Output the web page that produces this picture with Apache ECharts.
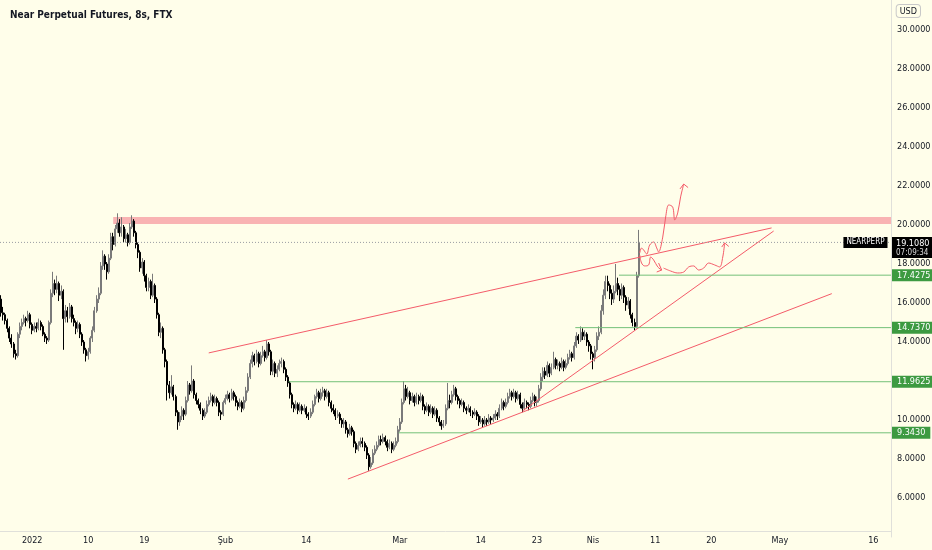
<!DOCTYPE html>
<html><head><meta charset="utf-8">
<script src="https://cdn.jsdelivr.net/npm/echarts@6/dist/echarts.min.js"></script>
<style>html,body{margin:0;padding:0;background:#fffeea;}#c{width:932px;height:550px;}</style>
</head><body><div id="c"></div>
<script>
// ---- time axis (8h candles starting 2021-12-27 00:00 UTC) ----
const startDate = Date.UTC(2021, 11, 27, 0, 0, 0);
const categoryCount = 429;
const tickIndex = [15, 42, 69, 108, 147, 192, 231, 258, 285, 315, 342, 375, 420];
const tickLabels = ['2022', '10', '19', 'Şub', '14', 'Mar', '14', '23', 'Nis', '11', '20', 'May', '16'];

// ---- candles ----
const firstOpen = 16.2;
const closes = [
15.5,15.4,15.1,14.7,14.2,13.9,13.4,13.3,14.4,14.8,
15.0,15.2,15.1,15.4,14.9,14.6,14.8,14.7,15.0,14.8,
14.4,14.2,14.1,15.0,16.5,17.0,16.7,17.0,16.4,16.6,
15.2,15.6,15.3,15.8,15.2,15.0,14.7,14.9,14.4,14.0,
13.6,13.3,13.5,14.2,14.6,15.6,16.2,16.5,17.9,18.4,
18.0,17.6,18.3,19.4,19.0,19.8,20.1,19.6,19.9,19.3,
19.5,19.1,19.9,20.2,19.6,19.0,18.6,17.8,18.1,17.4,
16.8,17.1,16.4,16.9,16.2,15.4,14.5,14.7,13.6,13.0,
11.8,11.4,11.7,11.2,10.4,9.9,10.2,10.5,10.3,11.0,
11.8,11.5,12.0,11.3,11.0,10.8,10.5,10.2,10.4,10.8,
11.0,11.2,10.9,11.1,10.9,10.4,10.3,10.9,11.1,11.3,
11.1,11.4,11.2,10.9,10.7,10.9,10.6,11.0,11.5,12.2,
12.9,13.3,13.0,13.4,12.9,13.3,13.5,13.2,13.9,13.5,
12.5,12.9,12.4,12.6,12.9,13.0,12.6,12.2,11.9,11.3,
10.8,10.6,10.8,10.5,10.7,10.5,10.6,10.3,10.2,10.4,
10.8,11.2,11.4,11.1,11.4,11.5,11.2,11.4,10.9,10.6,
10.5,10.2,10.3,10.0,9.8,9.9,9.5,9.3,9.6,9.4,
8.8,8.5,8.7,8.9,8.8,8.6,8.2,7.6,7.8,8.3,
8.5,8.7,9.0,8.9,9.1,8.9,8.6,8.8,8.5,8.7,
8.9,9.5,9.9,10.9,11.6,11.2,11.4,11.0,11.2,10.9,
11.2,11.0,11.2,10.7,10.5,10.7,10.4,10.6,10.3,10.5,
10.1,9.9,9.7,9.8,10.6,11.0,10.9,11.3,11.6,11.2,
11.0,10.8,10.9,10.6,10.5,10.6,10.4,10.3,10.4,10.2,
9.9,10.0,9.8,10.0,9.9,10.1,10.0,10.1,10.3,10.2,
10.6,10.9,10.7,10.9,11.2,11.4,11.2,11.4,11.1,11.3,
10.8,10.6,10.9,10.8,10.7,11.0,11.2,10.9,11.0,11.6,
12.2,12.5,12.3,12.8,12.4,12.7,13.1,12.8,12.9,12.7,
13.0,12.7,12.9,13.2,13.4,13.2,13.8,14.3,14.1,14.5,
14.3,14.4,14.0,13.8,13.4,13.2,13.6,14.3,14.5,15.6,
16.4,17.1,16.9,16.5,16.2,16.6,17.0,16.7,16.4,16.8,
16.3,15.9,16.1,15.4,15.0,14.8,17.4,19.108
];
const highs = [
16.4,15.8,15.5,15.2,14.8,14.4,14.0,13.6,14.5,15.0,
15.2,15.4,15.3,15.6,15.5,15.0,15.0,15.0,15.2,15.1,
14.9,14.5,14.3,15.1,16.7,17.6,17.2,17.4,17.1,16.9,
16.7,15.9,15.8,16.0,15.9,15.4,15.1,15.1,15.0,14.5,
14.1,13.7,13.7,14.3,14.8,15.8,16.4,16.8,18.1,18.7,
18.5,18.1,18.5,19.6,19.6,20.0,20.6,20.3,20.4,20.0,
19.8,19.6,20.1,20.5,20.3,19.7,19.1,18.7,18.3,18.2,
17.5,17.3,17.2,17.5,17.0,16.3,15.5,15.0,14.8,13.7,
13.1,12.0,12.3,11.8,11.3,10.5,10.4,10.7,10.6,11.2,
12.0,11.9,12.8,12.1,11.4,11.1,10.9,10.6,10.6,11.0,
11.2,11.4,11.3,11.3,11.2,11.0,10.5,11.0,11.3,11.5,
11.4,11.6,11.5,11.3,11.0,11.1,11.0,11.2,11.7,12.4,
13.1,13.5,13.4,13.6,13.5,13.5,13.8,13.6,14.1,14.0,
13.6,13.1,13.0,12.8,13.1,13.2,13.1,12.7,12.3,12.0,
11.4,10.9,11.0,10.9,10.9,10.8,10.8,10.7,10.4,10.6,
11.0,11.3,11.6,11.5,11.6,11.7,11.6,11.6,11.5,11.0,
10.8,10.6,10.5,10.4,10.1,10.1,10.0,9.6,9.8,9.7,
9.5,8.9,8.9,9.1,9.1,8.9,8.7,8.3,8.1,8.5,
8.7,8.9,9.2,9.2,9.3,9.2,9.0,9.0,8.9,8.9,
9.1,9.7,10.1,11.1,12.0,11.8,11.7,11.5,11.4,11.3,
11.4,11.3,11.4,11.3,10.8,10.9,10.8,10.8,10.7,10.7,
10.6,10.2,10.0,10.0,10.8,11.9,11.3,11.5,11.8,11.7,
11.3,11.1,11.1,11.0,10.7,10.8,10.7,10.5,10.6,10.5,
10.3,10.2,10.1,10.2,10.1,10.3,10.2,10.3,10.5,10.4,
10.8,11.1,11.0,11.1,11.4,11.6,11.5,11.6,11.5,11.5,
11.4,10.9,11.1,11.0,10.9,11.2,11.4,11.3,11.2,11.8,
12.4,12.7,12.7,13.0,12.9,12.9,13.5,13.2,13.1,13.0,
13.2,13.1,13.1,13.4,13.6,13.5,14.0,14.5,14.4,14.8,
14.7,14.6,14.5,14.1,13.9,13.5,13.8,14.5,14.8,15.9,
16.7,17.4,17.4,17.0,16.7,16.9,18.0,17.3,16.9,17.0,
16.9,16.4,16.3,16.2,15.5,15.2,17.6,19.75
];
const lows = [
15.3,15.1,14.9,14.5,14.0,13.7,13.2,13.1,13.2,14.2,
14.6,14.9,14.8,15.0,14.7,14.4,14.5,14.5,14.6,14.6,
14.3,14.0,13.9,14.0,14.9,16.3,16.4,16.5,16.1,16.2,
13.6,15.0,15.0,15.2,15.0,14.8,14.4,14.5,14.2,13.8,
13.4,13.0,13.1,13.4,14.0,14.5,15.5,16.0,16.4,17.7,
17.7,17.2,17.5,18.2,18.7,18.9,19.6,19.4,19.4,19.1,
19.1,18.9,19.0,19.8,19.4,18.8,18.3,17.6,17.5,17.1,
16.6,16.6,16.2,16.3,16.0,15.2,14.3,14.2,13.4,12.7,
11.0,11.1,11.3,11.0,10.2,9.5,9.7,10.0,10.0,10.2,
10.9,11.3,11.4,11.1,10.8,10.6,10.3,10.0,10.1,10.3,
10.7,10.9,10.7,10.8,10.7,10.2,10.0,10.2,10.8,11.0,
10.9,11.0,11.0,10.7,10.5,10.6,10.4,10.5,10.9,11.4,
12.1,12.7,12.8,12.9,12.7,12.8,13.2,13.0,13.1,13.3,
12.3,12.3,12.2,12.2,12.5,12.7,12.4,12.0,11.7,11.1,
10.6,10.4,10.5,10.3,10.4,10.3,10.4,10.1,10.0,10.1,
10.3,10.7,11.1,10.9,11.0,11.2,11.0,11.1,10.7,10.4,
10.3,10.0,10.1,9.8,9.6,9.6,9.3,9.1,9.2,9.2,
8.6,8.3,8.4,8.6,8.6,8.4,8.0,7.4,7.5,7.7,
8.2,8.4,8.6,8.7,8.8,8.7,8.4,8.5,8.3,8.4,
8.6,8.8,9.4,9.8,10.8,11.0,11.1,10.8,10.9,10.7,
10.8,10.8,10.9,10.5,10.3,10.4,10.2,10.3,10.1,10.2,
9.9,9.7,9.5,9.6,9.7,10.5,10.6,10.8,11.2,11.0,
10.8,10.6,10.7,10.4,10.3,10.4,10.2,10.1,10.2,10.0,
9.7,9.8,9.6,9.7,9.7,9.8,9.8,9.9,10.0,10.0,
10.1,10.5,10.5,10.6,10.8,11.1,11.0,11.1,10.9,11.0,
10.6,10.4,10.5,10.6,10.5,10.6,10.9,10.7,10.7,10.9,
11.5,12.0,12.1,12.2,12.2,12.3,12.6,12.6,12.6,12.5,
12.6,12.5,12.6,12.8,13.1,13.0,13.1,13.7,13.9,14.0,
14.1,14.1,13.8,13.5,13.1,12.6,13.0,13.5,14.1,14.4,
15.4,16.2,16.6,16.2,15.9,16.0,16.5,16.4,16.1,16.2,
16.0,15.6,15.7,15.2,14.8,14.6,14.7,17.3
];

// ---- price markers ----
const symbolName = 'NEARPERP';
const lastPrice = 19.108;
const countdown = '07:09:34';
const levelPrices = [17.4275, 14.7370, 11.9625, 9.3430];
const levelStarts = [297.5, 276.5, 138.5, 191.5];
const zoneStart = 54, zoneEnd = 428.5, zoneLow = 20.05, zoneHigh = 20.41;
// trend lines: [startIndex, startPrice, endIndex, endPrice]
const trendLines = [[100, 13.44, 371, 19.85], [251, 10.46, 372, 19.69], [167, 6.97, 400, 16.48]];
// projection sketches (x = candle index, y = price)
const upPathX = [307.5,308.4,309.4,310.9,312.3,314.2,315.7,316.6,318.6,320.0,321.5,323.4,324.4,325.8,327.2,328.7];
const upPathY = [18.56,18.82,18.72,18.51,18.97,19.13,18.82,18.62,19.38,20.41,21.03,20.92,20.26,20.62,21.44,22.10];
const upArrowX = [326.9, 328.7, 330.8];
const upArrowY = [21.85, 22.10, 21.92];
const downPathX = [307.5,308.4,309.9,311.8,312.8,314.2,316.2,318.1];
const downPathY = [18.46,18.05,17.90,17.95,18.36,18.21,17.85,17.69];
const downArrowX = [315.7, 318.1, 316.6];
const downArrowY = [17.59, 17.69, 18.05];
const wavePathX = [319.0,322.4,325.8,328.7,331.1,333.5,335.9,338.3,340.7,343.6,346.0,347.5,348.4];
const wavePathY = [17.79,17.64,17.54,17.59,17.85,17.90,17.69,17.79,18.05,17.95,17.85,18.36,19.08];
const waveArrowX = [347.0, 348.4, 350.4];
const waveArrowY = [18.87, 19.08, 18.90];

// ---- build ----
const FONT = '"Liberation Sans Narrow", "DejaVu Sans Condensed", "Liberation Sans", sans-serif';
const categories = [];
for (let i = 0; i < categoryCount; i++) {
  const d = new Date(startDate + i * 8 * 3600 * 1000);
  categories.push(d.toISOString().slice(0, 16).replace('T', ' '));
}
const ohlc = closes.map((c, i) => {
  const o = i === 0 ? firstOpen : closes[i - 1];
  return [o, c, Math.min(lows[i], o, c), Math.max(highs[i], o, c)];
});
const pairs = (xa, ya) => xa.map((x, i) => [x, ya[i]]);
const RED = '#f45b69';
function seg(data, color, extra) {
  return Object.assign({
    type: 'line', xAxisIndex: 1, yAxisIndex: 0, data: data, symbol: 'none', showSymbol: false,
    silent: true, animation: false, lineStyle: { color: color, width: 1 }, z: 3
  }, extra || {});
}
const series = [];
series.push({
  type: 'line', xAxisIndex: 1, yAxisIndex: 0, data: [], silent: true, z: 1,
  markArea: { silent: true, itemStyle: { color: '#f9b3b3' },
    data: [[{ coord: [zoneStart, zoneHigh] }, { coord: [zoneEnd, zoneLow] }]] }
});
series.push(seg([[-0.5, lastPrice], [428.5, lastPrice]], '#9a9ca3', {
  lineStyle: { color: '#9a9ca3', width: 1, type: [1, 2] },
  endLabel: { show: true, distance: 1, formatter: '{a|' + lastPrice.toFixed(4) + '}\n{b|' + countdown + '}',
    backgroundColor: '#000', padding: [2, 4, 0, 4], offset: [0, 5], fontFamily: FONT,
    rich: { a: { color: '#fff', fontSize: 9, lineHeight: 10, fontFamily: FONT }, b: { color: '#ddd', fontSize: 8, lineHeight: 9, fontFamily: FONT } } },
  markPoint: { silent: true, symbol: 'rect', symbolSize: [1, 1], itemStyle: { color: 'rgba(0,0,0,0)' },
    data: [{ coord: [428.5, lastPrice], label: { show: true, position: 'left', distance: 3, formatter: symbolName,
      backgroundColor: '#000', color: '#fff', padding: [2, 3, 1, 3], fontSize: 8, fontFamily: FONT } }] },
  z: 4
}));
levelPrices.forEach((p, k) => {
  series.push(seg([[levelStarts[k], p], [428.5, p]], '#74c078', {
    endLabel: { show: true, distance: 1, formatter: p.toFixed(4), backgroundColor: '#3d9a41', color: '#fff',
      padding: [2, 5, 1, 5], fontSize: 9, fontFamily: FONT }, z: 4
  }));
});
trendLines.forEach(t => series.push(seg([[t[0], t[1]], [t[2], t[3]]], RED)));
series.push(seg(pairs(upPathX, upPathY), RED, { smooth: 0.35 }));
series.push(seg(pairs(upArrowX, upArrowY), RED));
series.push(seg(pairs(downPathX, downPathY), RED, { smooth: 0.35 }));
series.push(seg(pairs(downArrowX, downArrowY), RED));
series.push(seg(pairs(wavePathX, wavePathY), RED, { smooth: 0.35 }));
series.push(seg(pairs(waveArrowX, waveArrowY), RED));
series.push({
  type: 'candlestick', xAxisIndex: 0, yAxisIndex: 0, data: ohlc, barWidth: 1.5, z: 2, silent: true,
  itemStyle: { color: '#7a7a7a', color0: '#000000', borderColor: '#7a7a7a', borderColor0: '#000000', borderWidth: 1 }
});

const chart = echarts.init(document.getElementById('c'), null, { renderer: 'canvas' });
chart.setOption({
  animation: false,
  backgroundColor: '#fffeea',
  textStyle: { fontFamily: FONT },
  title: { text: 'Near Perpetual Futures, 8s, FTX', left: 5, top: 5,
    textStyle: { fontSize: 10, fontWeight: 'bold', color: '#131722', fontFamily: FONT } },
  graphic: [{ type: 'text', right: 11, top: 4, z: 10,
    style: { text: 'USD', fill: '#131722', fontSize: 9, fontFamily: FONT, backgroundColor: '#fffeea',
      borderColor: '#c8c8c8', borderWidth: 1, borderRadius: 3, padding: [2, 3, 1, 3] } }],
  grid: { left: 0, right: 41, top: -9, bottom: 13, containLabel: false, outerBoundsMode: 'none' },
  xAxis: [{
    type: 'category', data: categories, boundaryGap: true, offset: -6,
    axisLine: { show: true, onZero: false, lineStyle: { color: '#e0e0da' } },
    axisTick: { show: false }, splitLine: { show: false },
    axisLabel: { color: '#131722', fontSize: 9, margin: 5, fontFamily: FONT, hideOverlap: false,
      interval: (idx) => tickIndex.indexOf(idx) >= 0,
      formatter: (v, idx) => { const k = tickIndex.indexOf(idx); return k >= 0 ? tickLabels[k] : ''; } }
  }, {
    type: 'value', min: -0.5, max: 428.5, show: false, position: 'bottom',
    axisLine: { onZero: false }
  }],
  yAxis: [{
    type: 'value', position: 'right', min: 4, max: 32, interval: 2, scale: true,
    axisLine: { show: true, onZero: false, lineStyle: { color: '#e0e0da' } },
    axisTick: { show: false }, splitLine: { show: false },
    axisLabel: { color: '#131722', fontSize: 9, margin: 6, fontFamily: FONT,
      formatter: v => (v < 5 || v > 31) ? '' : v.toFixed(4) }
  }],
  series: series
});
</script>
</body></html>
